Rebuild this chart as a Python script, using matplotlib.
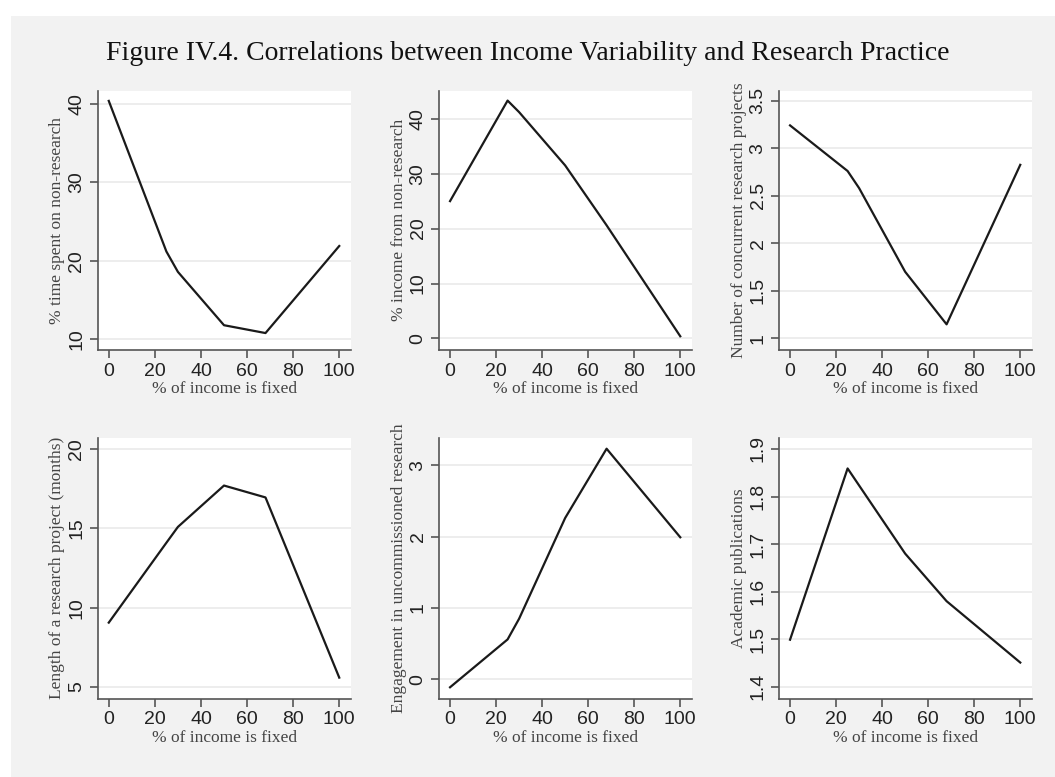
import matplotlib.pyplot as plt
import matplotlib.patches as patches

# --- データ ---
title = "Figure IV.4. Correlations between Income Variability and Research Practice"
xlabel = "% of income is fixed"

x_time = [0, 25, 30, 50, 68, 100]
y_time = [40.4, 21.2, 18.6, 11.8, 10.8, 21.9]

x_income = [0, 25, 30, 50, 68, 100]
y_income = [25.0, 43.3, 41.2, 31.5, 20.6, 0.4]

x_projects = [0, 25, 30, 50, 68, 100]
y_projects = [3.24, 2.76, 2.58, 1.70, 1.147, 2.825]

x_length = [0, 25, 30, 50, 68, 100]
y_length = [9.06, 14.1, 15.1, 17.71, 16.96, 5.59]

x_engage = [0, 25, 30, 50, 68, 100]
y_engage = [-0.11, 0.56, 0.85, 2.26, 3.23, 1.99]

x_pubs = [0, 25, 50, 68, 100]
y_pubs = [1.499, 1.859, 1.680, 1.580, 1.451]

ylabels = ["% time spent on non-research", "% income from non-research",
           "Number of concurrent research projects",
           "Length of a research project (months)",
           "Engagement in uncommissioned research", "Academic publications"]
yticks = [[10, 20, 30, 40], [0, 10, 20, 30, 40], [1, 1.5, 2, 2.5, 3, 3.5],
          [5, 10, 15, 20], [0, 1, 2, 3], [1.4, 1.5, 1.6, 1.7, 1.8, 1.9]]
yticklabels = [["10", "20", "30", "40"], ["0", "10", "20", "30", "40"],
               ["1", "1.5", "2", "2.5", "3", "3.5"], ["5", "10", "15", "20"],
               ["0", "1", "2", "3"], ["1.4", "1.5", "1.6", "1.7", "1.8", "1.9"]]
ylims = [(8.64, 41.7), (-2.1, 45.1), (0.877, 3.605), (4.26, 20.71), (-0.27, 3.38), (1.375, 1.923)]
xticks = [0, 20, 40, 60, 80, 100]

series = [(x_time, y_time), (x_income, y_income), (x_projects, y_projects),
          (x_length, y_length), (x_engage, y_engage), (x_pubs, y_pubs)]

W, H = 1055, 777
fig = plt.figure(figsize=(W / 100, H / 100), dpi=100)
fig.patch.set_facecolor('white')
# 背景（灰色の領域）
fig.patches.append(patches.Rectangle((11 / W, 0), 1 - 11 / W, 1 - 16 / H,
                                     transform=fig.transFigure, facecolor='#f2f2f2',
                                     edgecolor='none', zorder=-10))

fig.text(0.5, 1 - 60 / H, title, ha='center', va='baseline',
         fontfamily='Liberation Serif', fontsize=20, color='#111111')

lefts = [97.7, 439, 779]
rights = [351, 692, 1032]
tops = [90.7, 438]
bottoms = [350, 698.7]

for i, (xs, ys) in enumerate(series):
    r, c = divmod(i, 3)
    l, rr = lefts[c], rights[c]
    t, b = tops[r], bottoms[r]
    ax = fig.add_axes([l / W, 1 - b / H, (rr - l) / W, (b - t) / H])
    ax.set_facecolor('white')
    ax.plot(xs, ys, color='#1a1a1a', lw=1.6, zorder=3)
    ax.set_xlim(-4.8, 105.1)
    ax.set_ylim(*ylims[i])
    ax.set_xticks(xticks)
    ax.set_yticks(yticks[i])
    ax.set_yticklabels(yticklabels[i], rotation=90, va='center')
    for yv in yticks[i]:
        ax.axhline(yv, color='#eaeaea', lw=1.2, zorder=1)
    for s in ['top', 'right']:
        ax.spines[s].set_visible(False)
    for s in ['left', 'bottom']:
        ax.spines[s].set_color('#555555')
        ax.spines[s].set_linewidth(1.2)
    ax.tick_params(direction='out', length=6, width=1.2, color='#555555',
                   labelsize=14, labelcolor='#222222', pad=3)
    for lab in ax.get_xticklabels() + ax.get_yticklabels():
        lab.set_fontfamily('Liberation Sans')
    ax.set_xlabel(xlabel, fontfamily='Liberation Serif', fontsize=12.5,
                  color='#444444', labelpad=1)
    ax.set_ylabel(ylabels[i], fontfamily='Liberation Serif', fontsize=12.5,
                  color='#444444', labelpad=2)

fig.savefig('out.png', dpi=100, facecolor=fig.get_facecolor())
